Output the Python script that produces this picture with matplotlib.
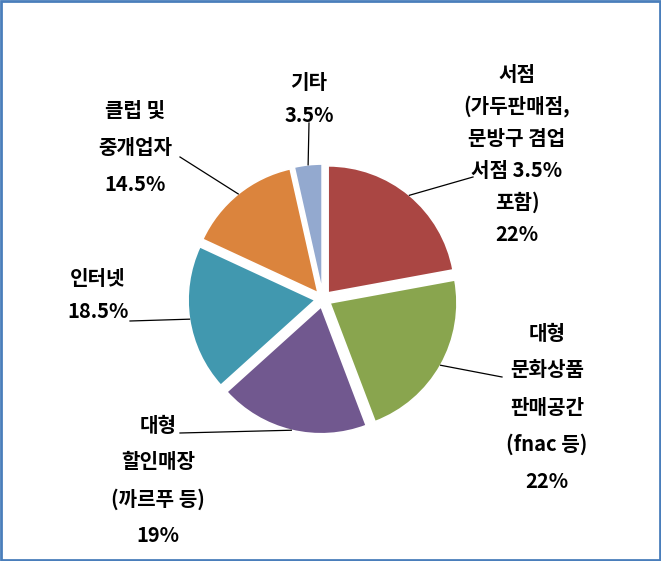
import matplotlib
matplotlib.use("Agg")
import matplotlib.pyplot as plt
import numpy as np

plt.rcParams['font.family'] = ['Noto Sans CJK KR', 'DejaVu Sans']

# data
names = ['서점\n(가두판매점,\n문방구 겸업\n서점 3.5%\n포함)',
         '대형\n문화상품\n판매공간\n(fnac 등)',
         '대형\n할인매장\n(까르푸 등)',
         '인터넷',
         '클럽 및\n중개업자',
         '기타']
shares = [22, 22, 19, 18.5, 14.5, 3.5]
pct_text = ['22%', '22%', '19%', '18.5%', '14.5%', '3.5%']
colors = ['#AA4643', '#89A54E', '#71588F', '#4198AF', '#DB843D', '#93A9CF']

# layout (pixels from top-left)
W, H = 661, 561
cx, cy, R = 323, 299, 127
expl = 8  # pie offsets wedges in data units (= pixels here)
lab_x = [517, 547, 158, 98, 135, 309]
lab_y0 = [74, 333, 425, 278, 110, 82]
lab_dy = [32, 37, 37, 33, 37, 33]
line_end = [(473, 177), (502, 377), (180, 433), (130, 321), (180, 157), (309, 123)]

fig = plt.figure(figsize=(W / 100, H / 100), dpi=100)
ax = fig.add_axes([0, 0, 1, 1])

wedges, _ = ax.pie(shares, colors=colors, startangle=90, counterclock=False,
                   center=(cx, H - cy), radius=R, explode=[expl] * len(shares),
                   wedgeprops=dict(edgecolor='white', linewidth=1.2))
ax.set_xlim(0, W)
ax.set_ylim(0, H)
ax.set_aspect('equal')
ax.axis('off')

for i, w in enumerate(wedges):
    ang = np.deg2rad((w.theta1 + w.theta2) / 2)
    r = R + expl
    px = cx + r * np.cos(ang)
    py = (H - cy) + r * np.sin(ang)
    ex, ey = line_end[i]
    ax.plot([px, ex], [py, H - ey], color='black', lw=0.9)

    lines = names[i].split('\n') + [pct_text[i]]
    for j, t in enumerate(lines):
        ax.text(lab_x[i], H - (lab_y0[i] + j * lab_dy[i]), t, ha='center',
                va='center', fontsize=14.5, fontweight='bold', color='black')

# border
fig.patches.append(plt.Rectangle((0.0015, 0.002), 0.997, 0.996, transform=fig.transFigure,
                                 fill=False, edgecolor='#4A7EBB', lw=2))

fig.savefig('out.png', dpi=100)
